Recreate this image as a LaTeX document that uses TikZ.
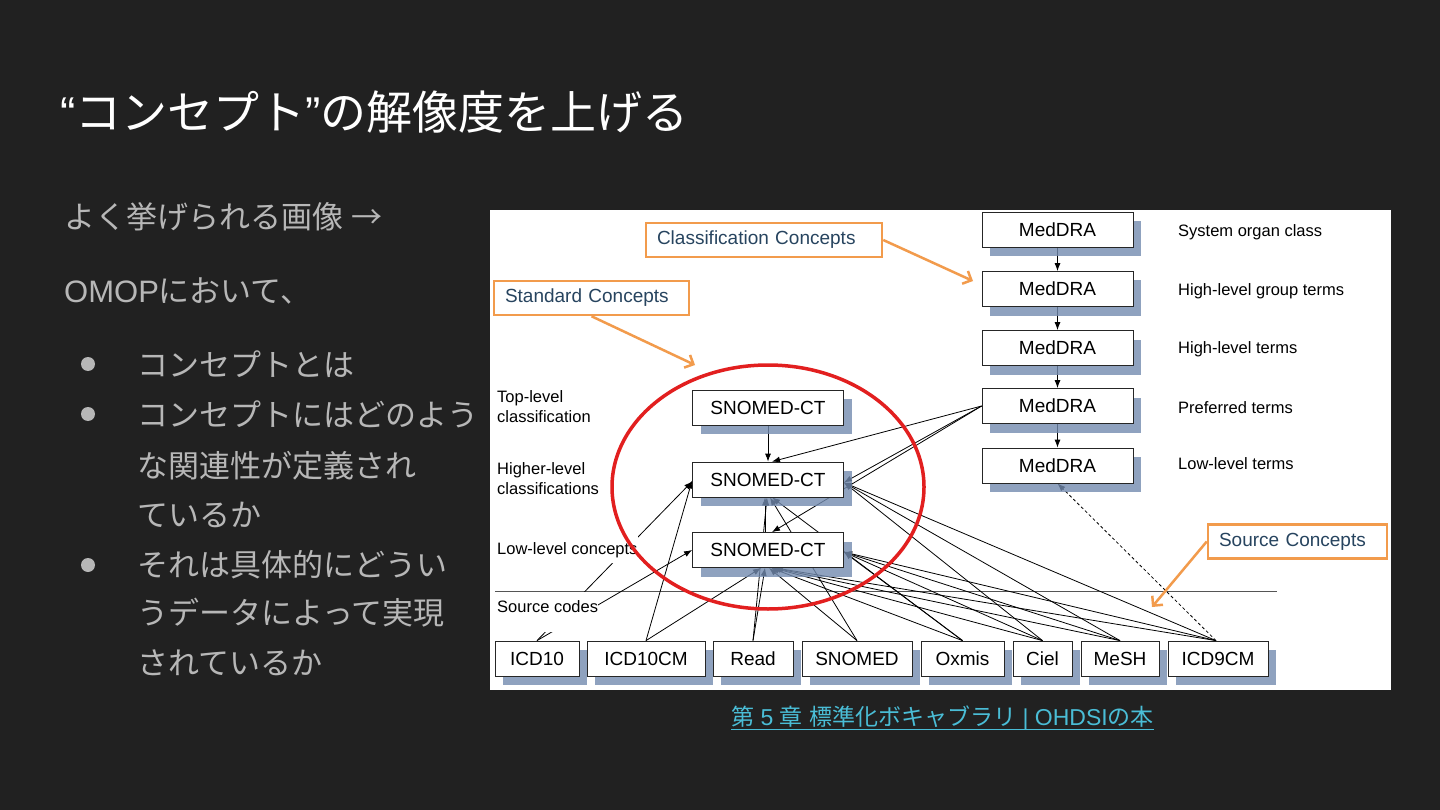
\documentclass[tikz,border=0pt]{standalone}
\usepackage{fontspec}
\setmainfont{Liberation Sans}
\newfontfamily\jp{Noto Sans CJK JP}
\usetikzlibrary{arrows.meta,shadows,calc}
\pgfdeclarelayer{back}
\pgfdeclarelayer{lines}
\pgfdeclarelayer{front}
\pgfsetlayers{back,lines,main,front}
\definecolor{bgcol}{HTML}{212121}
\definecolor{bodycol}{HTML}{B7B7B7}
\definecolor{shadowcol}{HTML}{738BAF}
\definecolor{orangecol}{HTML}{F29B4C}
\definecolor{calltext}{HTML}{27445F}
\definecolor{ringred}{HTML}{E21F1F}
\definecolor{linkcol}{HTML}{4ABDD6}
\definecolor{rulecol}{HTML}{555555}
\tikzset{
  box/.style={draw=black!85, line width=0.8pt, fill=white, minimum height=35pt, inner sep=0pt,
    font=\fontsize{19}{22}\selectfont,
    drop shadow={shadow xshift=8pt, shadow yshift=-9pt, fill=shadowcol, opacity=0.8}},
  lab/.style={fill=white, inner sep=0pt, font=\fontsize{16.5}{20}\selectfont, align=left},
  callout/.style={draw=orangecol, line width=2.5pt, fill=white, text=calltext, inner ysep=0pt,
    inner xsep=11pt, align=left, font=\fontsize{19}{22}\selectfont, minimum height=34pt},
  conn/.style={-{Latex[length=8pt,width=6pt]}, line width=0.8pt, black},
  dconn/.style={conn, dashed, dash pattern=on 3pt off 2.5pt},
  orarrow/.style={orangecol, line width=2.5pt, -{Straight Barb[length=7pt,width=14pt]}},
  body/.style={anchor=west, text=bodycol, inner sep=0pt, font=\jp\fontsize{31}{36}\selectfont},
  dot/.style={circle, fill=bodycol, minimum size=14pt, inner sep=0pt}
}
\begin{document}
\begin{tikzpicture}[x=1pt,y=-1pt]
\begin{pgfonlayer}{back}
\fill[bgcol] (0,0) rectangle (1440,810);
\fill[white] (490,210) rectangle (1391,690);
\end{pgfonlayer}
\useasboundingbox (0,0) rectangle (1440,810);

% title and body text
\node[anchor=west, text=white, inner sep=0pt, font=\jp\fontsize{46}{50}\selectfont] (title) at (60,112) {{\rmfamily “}コンセプト{\rmfamily ”}の解像度を上げる};
\node[body] (t0) at (64,217) {よく挙げられる画像{\rmfamily\ }→};
\node[body] (t1) at (64,291) {{\rmfamily OMOP}において、};
\node[dot] (d1) at (88,364) {};
\node[dot] (d2) at (88,414) {};
\node[dot] (d3) at (88,565) {};
\node[body] (t2) at (137,364) {コンセプトとは};
\node[body] (t3) at (137,414) {コンセプトにはどのよう};
\node[body] (t4) at (137,466) {な関連性が定義され};
\node[body] (t5) at (137,515) {ているか};
\node[body] (t6) at (137,565) {それは具体的にどうい};
\node[body] (t7) at (137,613) {うデータによって実現};
\node[body] (t8) at (137,663) {されているか};

\node[anchor=west, text=linkcol, inner sep=0pt, font=\jp\fontsize{23}{27}\selectfont] (link) at (731,718) {第{\rmfamily\ 5\ }章{\rmfamily\ }標準化ボキャブラリ{\rmfamily\ |\ OHDSI}の本};
\draw[linkcol, line width=1.5pt] ([yshift=-4pt]link.base west) -- ([yshift=-4pt]link.base east);

% boxes
\node[box, minimum width=151pt] (sc1) at (768,407.5) {SNOMED-CT};
\node[box, minimum width=151pt] (sc2) at (768,479.5) {SNOMED-CT};
\node[box, minimum width=151pt] (sc3) at (768,550) {SNOMED-CT};
\node[box, minimum width=151pt] (md1) at (1057.5,230) {MedDRA};
\node[box, minimum width=151pt] (md2) at (1057.5,289) {MedDRA};
\node[box, minimum width=151pt] (md3) at (1057.5,348) {MedDRA};
\node[box, minimum width=151pt] (md4) at (1057.5,406) {MedDRA};
\node[box, minimum width=151pt] (md5) at (1057.5,465.5) {MedDRA};
\node[box, minimum width=84pt] (icd10) at (537,658.5) {ICD10};
\node[box, minimum width=118pt] (icd10cm) at (646,658.5) {ICD10CM};
\node[box, minimum width=80pt] (read) at (753,658.5) {Read};
\node[box, minimum width=110pt] (snomed) at (857,658.5) {SNOMED};
\node[box, minimum width=83pt] (oxmis) at (962.5,658.5) {Oxmis};
\node[box, minimum width=59pt] (ciel) at (1042.5,658.5) {Ciel};
\node[box, minimum width=78pt] (mesh) at (1120,658.5) {MeSH};
\node[box, minimum width=100pt] (icd9) at (1218,658.5) {ICD9CM};

% right labels
\node[lab, anchor=west] (r1) at (1178,232) {System organ class};
\node[lab, anchor=west] (r2) at (1178,291) {High-level group terms};
\node[lab, anchor=west] (r3) at (1178,349) {High-level terms};
\node[lab, anchor=west] (r4) at (1178,408) {Preferred terms};
\node[lab, anchor=west] (r5) at (1178,464) {Low-level terms};

% left labels
\node[lab, anchor=west] (l1) at (497,407) {Top-level\\classification};
\node[lab, anchor=west] (l2) at (497,479) {Higher-level\\classifications};
\node[lab, anchor=base west, text height=23pt, text depth=9pt] (l3) at (497,554) {Low-level concepts};
\node[lab, anchor=base west, text height=20pt, text depth=20pt] (l4) at (497,612) {Source codes};

% callouts
\node[callout, text width=214pt] (cc) at (764,240) {Classification Concepts};
\node[callout, text width=173pt] (stc) at (591.5,298) {Standard Concepts};
\node[callout, text width=157pt] (soc) at (1297.5,541.5) {Source Concepts};
\coordinate (ccend) at (973,281);
\coordinate (stcend) at (695,365);
\coordinate (socend) at (1152,607);
\coordinate (ruleL) at (495,591);
\coordinate (ruleR) at (1277,591);

\begin{pgfonlayer}{lines}
\draw[rulecol, line width=0.8pt] (ruleL) -- (ruleR);
\draw[conn] (sc1.south) -- (sc2.north);
\draw[conn] (md1.south) -- (md2.north);
\draw[conn] (md2.south) -- (md3.north);
\draw[conn] (md3.south) -- (md4.north);
\draw[conn] (md4.south) -- (md5.north);
\draw[conn] (md4.west) -- ([xshift=4pt]sc2.north);
\draw[conn] (md4.west) -- ([yshift=-3pt]sc2.east);
\draw[conn] (md4.west) -- ([xshift=4pt]sc3.north);
\draw[conn] (icd10.north) -- ([yshift=-2pt]sc2.west);
\draw[conn] (icd10.north) -- (sc3.west);
\draw[conn] (icd10cm.north) -- ([yshift=-1pt]sc2.west);
\draw[conn] (icd10cm.north) -- ([xshift=-7pt]sc3.south);
\draw[conn] (read.north) -- ([xshift=-3pt]sc3.south);
\draw[conn] (read.north) -- ([xshift=-1pt]sc2.south);
\draw[conn] ([xshift=-3pt]sc3.north) -- ([xshift=-3pt]sc2.south);
\draw[conn] (snomed.north) -- ([xshift=1pt]sc3.south);
\draw[conn] (snomed.north) -- ([xshift=2pt]sc2.south);
\draw[conn] (oxmis.north) -- ([xshift=4pt]sc2.south);
\draw[conn] (oxmis.north) -- ([xshift=3pt]sc3.south);
\draw[conn] (oxmis.north) -- ([yshift=-2pt]sc3.east);
\draw[conn] (ciel.north) -- ([yshift=-3pt]sc2.east);
\draw[conn] (ciel.north) -- ([yshift=-2pt]sc3.east);
\draw[conn] (ciel.north) -- ([xshift=5pt]sc3.south);
\draw[conn] (mesh.north) -- ([yshift=-3pt]sc2.east);
\draw[conn] (mesh.north) -- ([yshift=-2pt]sc3.east);
\draw[conn] (mesh.north) -- ([xshift=6pt]sc3.south);
\draw[conn] ([xshift=-2pt]icd9.north) -- ([yshift=-3pt]sc2.east);
\draw[conn] ([xshift=-2pt]icd9.north) -- ([yshift=-2pt]sc3.east);
\draw[conn] ([xshift=-2pt]icd9.north) -- ([xshift=7pt]sc3.south);
\draw[dconn] ([xshift=-2pt]icd9.north) -- (md5.south);
\end{pgfonlayer}

\begin{pgfonlayer}{front}
\draw[ringred, line width=3.5pt] (768,487) ellipse [x radius=156pt, y radius=122pt];
\draw[orarrow] (cc.east) -- (ccend);
\draw[orarrow] (stc.south) -- (stcend);
\draw[orarrow] (soc.west) -- (socend);
\end{pgfonlayer}
\end{tikzpicture}
\end{document}
